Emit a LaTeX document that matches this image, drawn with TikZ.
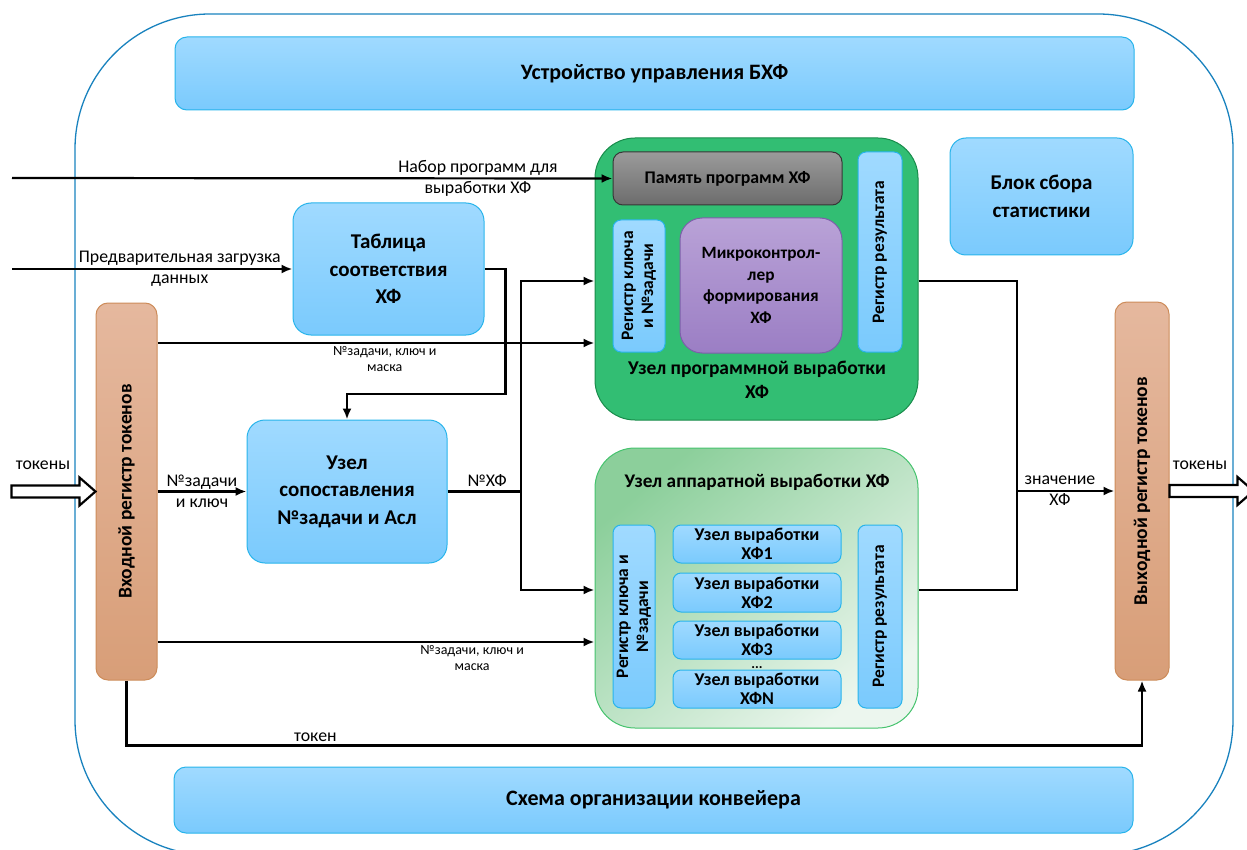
\documentclass[tikz,border=0pt]{standalone}
\usepackage{fontspec}
\setmainfont{Carlito}
\usepackage{graphicx}
\usetikzlibrary{arrows.meta}

\definecolor{bluetop}{RGB}{160,218,255}
\definecolor{bluebot}{RGB}{122,202,253}
\definecolor{blueline}{RGB}{40,180,235}
\definecolor{progfill}{RGB}{50,190,115}
\definecolor{progline}{RGB}{25,140,75}
\definecolor{hwA}{RGB}{140,207,155}
\definecolor{hwB}{RGB}{236,246,238}
\definecolor{hwline}{RGB}{70,195,110}
\definecolor{memtop}{RGB}{155,155,155}
\definecolor{membot}{RGB}{108,108,108}
\definecolor{memline}{RGB}{55,55,55}
\definecolor{mcutop}{RGB}{185,162,215}
\definecolor{mcubot}{RGB}{155,126,196}
\definecolor{mculine}{RGB}{125,95,170}
\definecolor{regtop}{RGB}{229,184,158}
\definecolor{regbot}{RGB}{216,158,120}
\definecolor{regline}{RGB}{205,140,90}
\definecolor{frame}{RGB}{25,130,190}

\newcommand{\vlabel}[1]{\rotatebox{90}{\begin{tabular}{@{}c@{}}#1\end{tabular}}}

\tikzset{
    block/.style = {draw = blueline, line width = 1pt, rounded corners = 12,
        top color = bluetop, bottom color = bluebot, align = center, inner sep = 0,
        font = \bfseries\fontsize{21}{27.5}\selectfont},
    reg/.style = {block, rounded corners = 8, font = \bfseries\fontsize{17.5}{20}\selectfont},
    unit/.style = {block, rounded corners = 8, font = \bfseries\fontsize{18}{19}\selectfont},
    tokreg/.style = {draw = regline, line width = 1pt, rounded corners = 12,
        top color = regtop, bottom color = regbot, inner sep = 0,
        font = \bfseries\fontsize{19.5}{22}\selectfont},
    arr/.style = {line width = 2.2pt, -{Latex[length = 11pt, width = 9pt]}},
    wire/.style = {line width = 2.2pt},
    fat/.style = {line width = 2.2pt, fill = white, line join = miter},
    lbl/.style = {align = center, inner sep = 0, font = \fontsize{17.8}{21}\selectfont},
    small/.style = {align = center, inner sep = 2pt, font = \fontsize{14}{16}\selectfont}
}

\begin{document}
\begin{tikzpicture}[x = 1pt, y = -1pt]
    \useasboundingbox (0, 0) rectangle (1247, 850);
    \clip (0, 0) rectangle (1247, 850);

    % outer frame
    \node[draw = frame, line width = 1.3pt, rounded corners = 135,
        minimum width = 1158, minimum height = 841] (bhf) at (654, 434.5) {};

    \node[block, font = \bfseries\fontsize{22}{27}\selectfont, minimum width = 959, minimum height = 73] (ctrl) at (654.5, 73.5) {Устройство управления БХФ};
    \node[block, font = \bfseries\fontsize{22}{27}\selectfont, minimum width = 959, minimum height = 66] (pipe) at (653.5, 800) {Схема организации конвейера};
    \node[block, rounded corners = 16, minimum width = 183, minimum height = 117] (stat) at (1041.5, 196.5) {Блок сбора\\статистики};
    \node[block, rounded corners = 18, minimum width = 191, minimum height = 132] (tab) at (388.5, 269) {Таблица\\соответствия\\ХФ};
    \node[block, rounded corners = 18, minimum width = 200, minimum height = 143] (match) at (347, 491.5) {Узел\\сопоставления\\№задачи и Асл};

    % token registers
    \node[tokreg, minimum width = 61, minimum height = 377] (inreg) at (126.5, 491.5) {\rotatebox{90}{Входной регистр токенов}};
    \node[tokreg, minimum width = 54, minimum height = 378] (outreg) at (1142, 491) {\rotatebox{90}{Выходной регистр токенов}};

    % program node
    \node[draw = progline, fill = progfill, line width = 1pt, rounded corners = 40,
        minimum width = 323, minimum height = 282] (prog) at (756.5, 279) {};
    \node[draw = memline, line width = 1pt, rounded corners = 10, top color = memtop, bottom color = membot,
        minimum width = 229, minimum height = 53, font = \bfseries\fontsize{17.8}{20}\selectfont] (mem) at (727.5, 178.5) {Память программ ХФ};
    \node[reg, minimum width = 52, minimum height = 132] (kregp) at (639, 286) {\vlabel{Регистр ключа\\и №задачи}};
    \node[draw = mculine, line width = 1pt, rounded corners = 22, top color = mcutop, bottom color = mcubot,
        minimum width = 162, minimum height = 135, align = center,
        font = \bfseries\fontsize{17.3}{21.5}\selectfont] (mcu) at (761, 285.5) {Микроконтрол-\\лер\\формирования\\ХФ};
    \node[reg, minimum width = 44, minimum height = 200] (rregp) at (880, 252) {\vlabel{Регистр результата}};
    \node[align = center, font = \bfseries\fontsize{19.5}{24}\selectfont] (progname) at (757, 380) {Узел программной выработки\\ХФ};

    % hardware node
    \node[draw = hwline, line width = 1pt, rounded corners = 40,
        top color = hwA, bottom color = hwB, shading angle = 40,
        minimum width = 323, minimum height = 280] (hw) at (756.5, 588) {};
    \node[font = \bfseries\fontsize{19.3}{21}\selectfont] (hwname) at (757, 482) {Узел аппаратной выработки ХФ};
    \node[reg, minimum width = 42, minimum height = 183] (kregh) at (634, 616.5) {\vlabel{Регистр ключа и\\№задачи}};
    \node[unit, minimum width = 168, minimum height = 38] (u1) at (757, 544) {Узел выработки\\ХФ1};
    \node[unit, minimum width = 168, minimum height = 39] (u2) at (757, 592.5) {Узел выработки\\ХФ2};
    \node[unit, minimum width = 168, minimum height = 38] (u3) at (757, 640) {Узел выработки\\ХФ3};
    \node[unit, minimum width = 168, minimum height = 38] (u4) at (757, 689) {Узел выработки\\ХФN};
    \node[font = \bfseries\fontsize{14}{14}\selectfont, inner sep = 0, anchor = base] (dots) at (757, 668.5) {\smash{...}};
    \node[reg, minimum width = 44, minimum height = 183] (rregh) at (880, 616.5) {\vlabel{Регистр результата}};

    % levels of the lines
    \coordinate (inA) at (12, 178);
    \coordinate (inB) at (12, 269);
    \coordinate (yA) at (0, 343);
    \coordinate (yB) at (0, 281);
    \coordinate (yC) at (0, 642);
    \coordinate (yD) at (0, 590);
    \coordinate (split) at (521, 491.5);
    \coordinate (join) at (1017, 491);

    % inputs from outside
    \draw[arr] (inA) -- (mem.west) node[lbl, pos = 0.776] (lProg) {Набор программ для\\выработки ХФ};
    \draw[arr] (inB) -- (tab.west) node[lbl, pos = 0.598] (lLoad) {Предварительная загрузка\\данных};

    \draw[arr] (tab.east) -- ++(21, 0) -- ++(0, 125) -| (match.north);

    \draw[arr] (inreg.east |- yA) -- (prog.west |- yA) node[small, below, pos = 0.52] (lKey1) {№задачи, ключ и\\маска};
    \draw[arr] (inreg.east |- match.west) -- (match.west) node[lbl, pos = 0.5] (lKey) {№задачи\\и ключ};
    \draw[arr] (inreg.east |- yC) -- (hw.west |- yC) node[small, below, pos = 0.72] (lKey2) {№задачи, ключ и\\маска};

    \draw[wire] (match.east) -- (split) node[lbl, above = 4pt, pos = 0.54] (lNum) {№ХФ};
    \draw[arr] (split) |- (prog.west |- yB);
    \draw[arr] (split) |- (hw.west |- yD);

    \draw[wire] (prog.east |- yB) -| (join);
    \draw[wire] (hw.east |- yD) -| (join);
    \draw[arr] (join) -- (outreg.west |- join) node[lbl, pos = 0.44] (lVal) {значение\\ХФ};

    \draw[arr] (inreg.south) -- ++(0, 65) -| (outreg.south) node[lbl, above = 3pt, pos = 0.093] (lTok) {токен};

    % token streams
    \draw[fat] (inreg.west) -- ++(-16, -14) -- ++(0, 8) -- ++(-68, 0) -- ++(0, 12)
        -- ++(68, 0) -- ++(0, 8) -- cycle;
    \node[lbl] (lIn) at (43, 465) {токены};
    \draw[fat] (outreg.east |- join) ++(0, -6) -- ++(68, 0) -- ++(0, -8) -- ++(16, 14)
        -- ++(-16, 14) -- ++(0, -8) -- ++(-68, 0) -- cycle;
    \node[lbl] (lOut) at (1200, 465) {токены};
\end{tikzpicture}
\end{document}
